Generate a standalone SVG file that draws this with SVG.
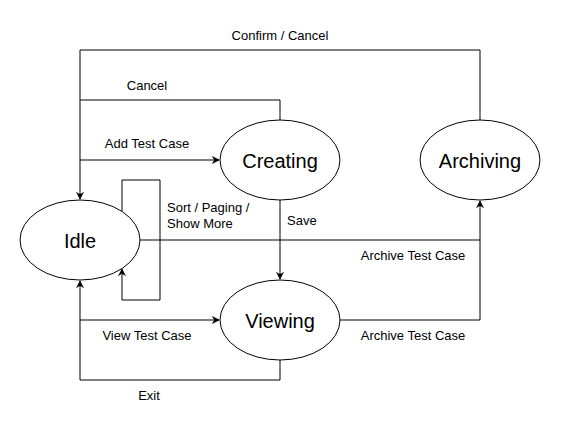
<svg xmlns="http://www.w3.org/2000/svg" width="561" height="430" viewBox="0 0 561 430">
<style>
.n{fill:#fff;stroke:#000;stroke-width:1}
.t{font-family:"Liberation Sans",Arial,sans-serif;font-size:20px;text-anchor:middle;dominant-baseline:central;fill:#000}
.l{font-family:"Liberation Sans",Arial,sans-serif;font-size:13px;fill:#000}
.e{fill:none;stroke:#000;stroke-width:1}
</style>
<defs>
<marker id="a" viewBox="0 0 10 10" refX="9" refY="5" markerWidth="8" markerHeight="8" orient="auto" markerUnits="userSpaceOnUse">
<path d="M0,0 L10,5 L0,10 L3,5 Z" fill="#000"/>
</marker>
</defs>
<rect width="561" height="430" fill="#fff"/>
<g id="edges">
<path class="e" d="M480,120 V50 H80 V199" marker-end="url(#a)"/>
<path class="e" d="M280,120 V100 H80"/>
<path class="e" d="M80,160 H219" marker-end="url(#a)"/>
<path class="e" d="M122,212 V180 H160 V300 H122 V269" marker-end="url(#a)"/>
<path class="e" d="M140,240 H480 V201" marker-end="url(#a)"/>
<path class="e" d="M280,200 V279" marker-end="url(#a)"/>
<path class="e" d="M340,320 H480 V240"/>
<path class="e" d="M80,320 H219" marker-end="url(#a)"/>
<path class="e" d="M280,360 V380 H80 V281" marker-end="url(#a)"/>
<text class="l" x="280" y="39.5" text-anchor="middle">Confirm / Cancel</text>
<text class="l" x="147" y="90" text-anchor="middle">Cancel</text>
<text class="l" x="147" y="148" text-anchor="middle">Add Test Case</text>
<text class="l" x="167" y="212">Sort / Paging /</text>
<text class="l" x="167" y="227.5">Show More</text>
<text class="l" x="287" y="225">Save</text>
<text class="l" x="413" y="260" text-anchor="middle">Archive Test Case</text>
<text class="l" x="147" y="339.5" text-anchor="middle">View Test Case</text>
<text class="l" x="413" y="339.5" text-anchor="middle">Archive Test Case</text>
<text class="l" x="149" y="400" text-anchor="middle">Exit</text>
</g>
<g id="idle"><ellipse class="n" cx="80" cy="240" rx="60" ry="40"/><text class="t" x="80" y="241">Idle</text></g>
<g id="creating"><ellipse class="n" cx="280" cy="160" rx="60" ry="40"/><text class="t" x="280" y="161">Creating</text></g>
<g id="archiving"><ellipse class="n" cx="480" cy="160" rx="60" ry="40"/><text class="t" x="480" y="161">Archiving</text></g>
<g id="viewing"><ellipse class="n" cx="280" cy="320" rx="60" ry="40"/><text class="t" x="280" y="321">Viewing</text></g>
</svg>
